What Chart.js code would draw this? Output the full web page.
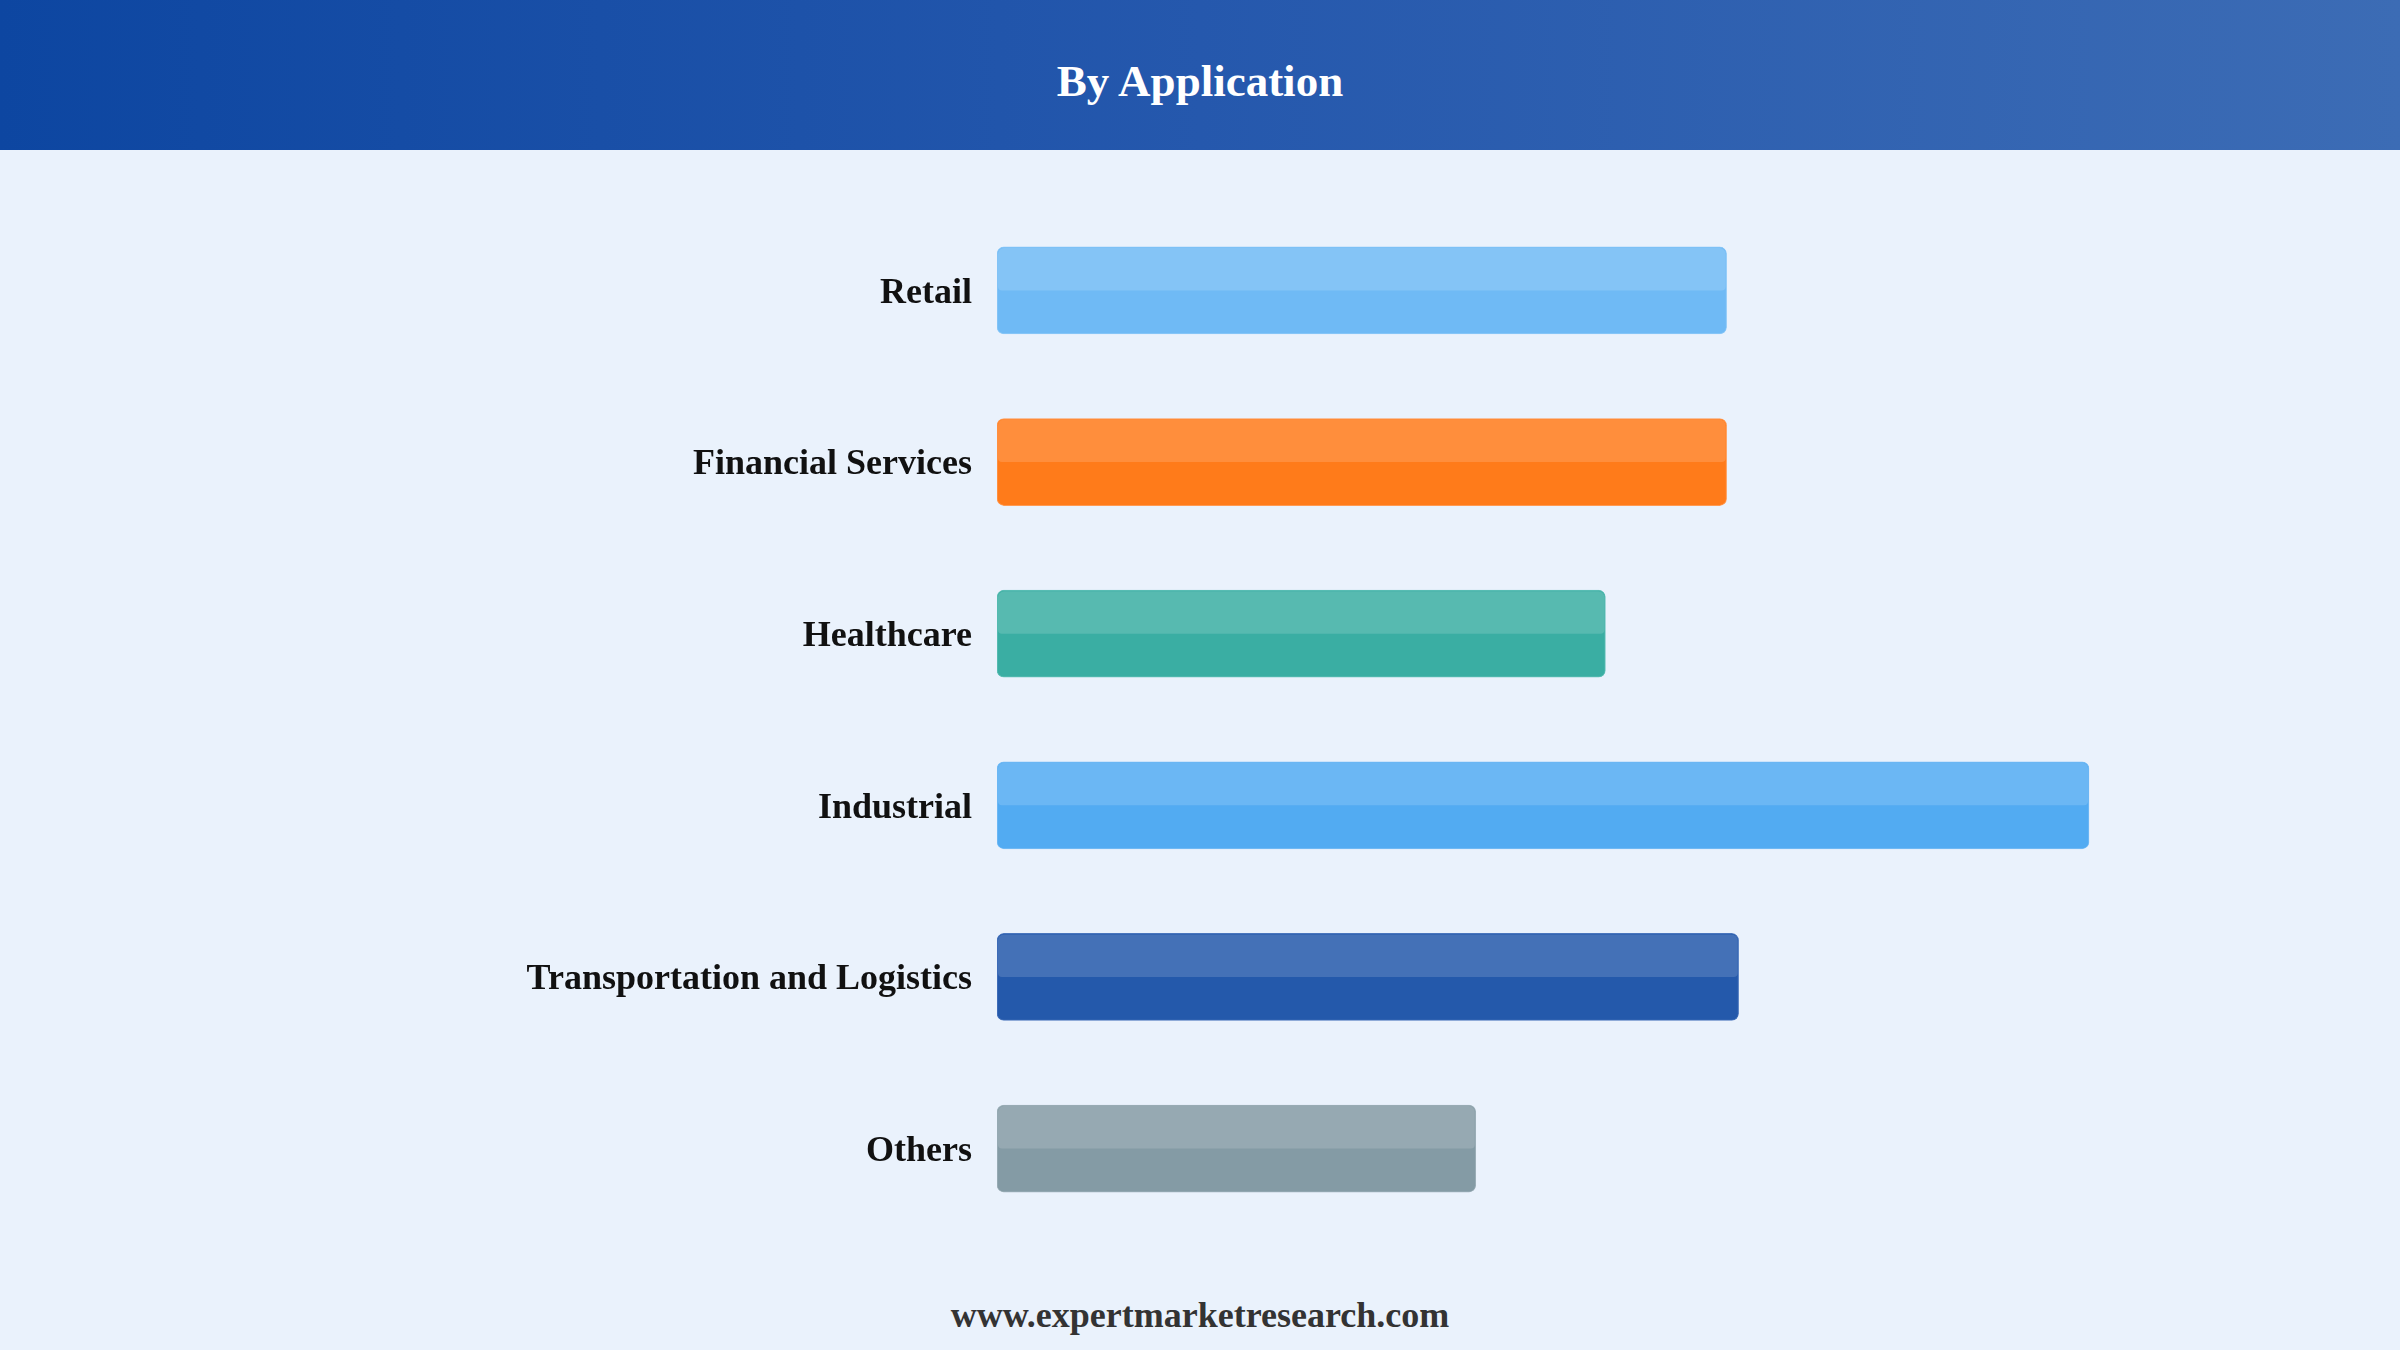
<!DOCTYPE html>
<html>
<head>
<meta charset="utf-8">
<script src="https://cdn.jsdelivr.net/npm/chart.js@4.4.1/dist/chart.umd.min.js"></script>
<style>
  html, body { margin: 0; padding: 0; }
  body { width: 2400px; height: 1350px; background: #eaf2fc; position: relative; overflow: hidden;
         font-family: "Liberation Serif", "Times New Roman", serif; }
  #header { position: absolute; left: 0; top: 0; width: 2400px; height: 150px;
            background: linear-gradient(90deg, #0d46a1 0%, #2558ad 50%, #3c6cb5 100%); }
  #title { position: absolute; left: 0; top: 59px; width: 2400px; text-align: center;
           color: #fff; font-weight: bold; font-size: 45px; line-height: 45px; }
  #wrap { position: absolute; left: 0; top: 158px; width: 2400px; height: 1123px; }
  #footer { position: absolute; left: 0; top: 1297px; width: 2400px; text-align: center;
            color: #333; font-weight: bold; font-size: 36px; line-height: 36px; }
</style>
</head>
<body>
<div id="header"><div id="title">By Application</div></div>
<div id="wrap"><canvas id="chart"></canvas></div>
<div id="footer">www.expertmarketresearch.com</div>

<script>
// categories and values (relative share)
const categories = ['Retail', 'Financial Services', 'Healthcare', 'Industrial', 'Transportation and Logistics', 'Others'];
const values = [60.8, 60.8, 50.7, 91.0, 61.8, 39.9];
const barColors = ['#6fbaf5', '#ff7b1a', '#3aaea3', '#52abf2', '#2459ab', '#849ba5'];
const edgeColors = ['#8cc8f7', '#ff9a52', '#62c0b7', '#78bdf5', '#4a76bd', '#9fb1ba'];

// light upper half on every bar
const gloss = {
  id: 'gloss',
  afterDatasetsDraw(chart) {
    const ctx = chart.ctx;
    chart.getDatasetMeta(0).data.forEach(bar => {
      const p = bar.getProps(['x', 'y', 'base', 'height'], true);
      const left = Math.min(p.x, p.base), w = Math.abs(p.x - p.base);
      const top = p.y - p.height / 2;
      ctx.save();
      ctx.fillStyle = 'rgba(255,255,255,0.15)';
      ctx.beginPath();
      ctx.roundRect(left + 1, top + 1, w - 2, p.height / 2 - 1, [6, 6, 4, 4]);
      ctx.fill();
      ctx.restore();
    });
  }
};

new Chart(document.getElementById('chart'), {
  type: 'bar',
  data: {
    labels: categories,
    datasets: [{
      data: values,
      backgroundColor: barColors,
      borderColor: edgeColors,
      borderWidth: 1,
      borderSkipped: false,
      borderRadius: 7,
      barThickness: 87
    }]
  },
  options: {
    indexAxis: 'y',
    responsive: true,
    maintainAspectRatio: false,
    animation: false,
    layout: { padding: { left: 0, right: 203, top: 0, bottom: 0 } },
    scales: {
      x: { display: false, min: 0, max: 100 },
      y: {
        grid: { display: false, drawTicks: false },
        border: { display: false },
        ticks: {
          padding: 25,
          labelOffset: 3,
          color: '#111',
          font: { family: '"Liberation Serif", "Times New Roman", serif', size: 36, weight: 'bold' }
        },
        afterFit: (scale) => { scale.width = 997; }
      }
    },
    plugins: {
      legend: { display: false },
      tooltip: { enabled: false }
    }
  },
  plugins: [gloss]
});
</script>
</body>
</html>
